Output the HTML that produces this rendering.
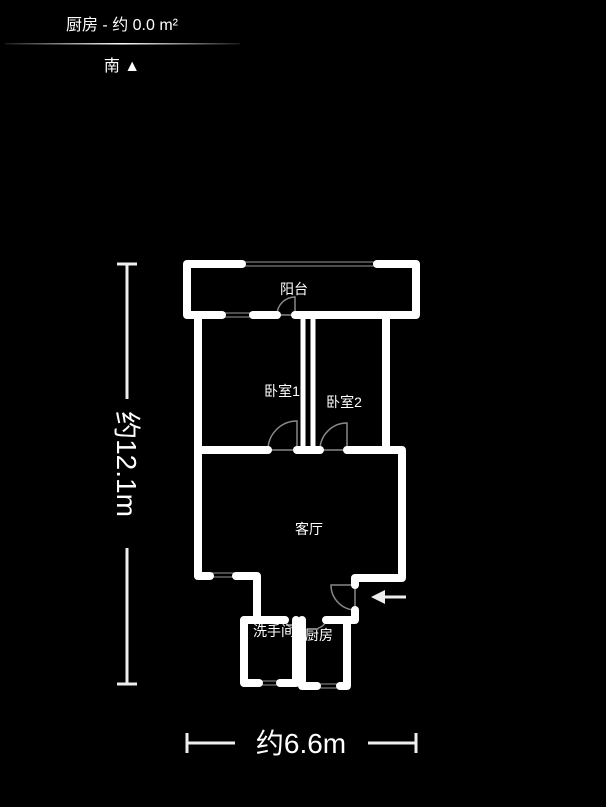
<!DOCTYPE html>
<html><head><meta charset="utf-8"><style>
html,body{margin:0;padding:0;background:#000;width:606px;height:807px;overflow:hidden}
svg{display:block}
text{font-family:"Liberation Sans","Noto Sans CJK SC",sans-serif;fill:#fff}
</style></head><body>
<svg width="606" height="807" viewBox="0 0 606 807">
<defs><linearGradient id="g" x1="0" x2="1"><stop offset="0" stop-color="#fff" stop-opacity="0.1"/><stop offset=".5" stop-color="#fff"/><stop offset="1" stop-color="#fff" stop-opacity="0.1"/></linearGradient></defs>
<text x="122" y="30" font-size="16" text-anchor="middle">厨房 - 约 0.0 m²</text>
<rect x="5" y="43" width="235" height="1.5" fill="url(#g)"/>
<text x="122" y="71" font-size="16" text-anchor="middle">南 ▲</text>

<g stroke="#999" stroke-width="1">
<line x1="242" y1="262" x2="377" y2="262"/><line x1="242" y1="266" x2="377" y2="266"/>
<line x1="222" y1="313" x2="253" y2="313"/><line x1="222" y1="317" x2="253" y2="317"/>
<line x1="210" y1="573" x2="236" y2="573"/><line x1="210" y1="577" x2="236" y2="577"/>
<line x1="259" y1="681" x2="280" y2="681"/><line x1="259" y1="685" x2="280" y2="685"/>
<line x1="317" y1="684" x2="340" y2="684"/><line x1="317" y1="688" x2="340" y2="688"/>
</g>
<g stroke="#888" stroke-width="1.5" fill="none">
<path d="M277 315 A18 18 0 0 1 295 297 L295 315 Z"/>
<path d="M268 450 A29 29 0 0 1 297 421 L297 450"/>
<line x1="268" y1="450" x2="297" y2="450"/>
<path d="M320 450 A27 27 0 0 1 347 423 L347 450"/>
<line x1="320" y1="450" x2="347" y2="450"/>
<path d="M331 585 A25 25 0 0 0 355 610 L355 585 Z"/>
<path d="M285 620 A10 10 0 0 0 293 628"/>
<path d="M326 620 A10 10 0 0 1 318 628"/>
</g>
<g stroke="#fff" stroke-width="8" stroke-linecap="round" stroke-linejoin="round" fill="none">
<polyline points="242,264 187,264 187,315 222,315"/>
<polyline points="377,264 416,264 416,315 295,315"/>
<line x1="253" y1="315" x2="277" y2="315"/>
<line x1="198" y1="315" x2="198" y2="576"/>
<line x1="386" y1="315" x2="386" y2="450"/>
<polyline points="198,450 268,450"/>
<polyline points="347,450 402,450 402,578 355,578 355,585"/>
<line x1="297" y1="450" x2="320" y2="450"/>
<line x1="198" y1="576" x2="210" y2="576"/>
<polyline points="236,576 257,576 257,620"/>
<polyline points="355,610 355,620 326,620"/>
<polyline points="285,620 244,620 244,683 259,683"/>
<polyline points="280,683 296,683 296,620"/>
<polyline points="302,620 302,686 317,686"/>
<polyline points="340,686 347,686 347,620"/>
</g>
<g stroke="#fff" stroke-width="5">
<line x1="303" y1="315" x2="303" y2="450"/><line x1="313" y1="315" x2="313" y2="450"/>
</g>
<line x1="382" y1="597" x2="406" y2="597" stroke="#eee" stroke-width="3"/>
<polygon points="371,597 385,590 385,604" fill="#eee"/>
<g font-size="14" text-anchor="middle">
<text x="294" y="294">阳台</text>
<text x="282" y="396">卧室1</text>
<text x="344" y="407">卧室2</text>
<text x="309" y="534">客厅</text>
<text x="274" y="636">洗手间</text>
<text x="319" y="640">厨房</text>
</g>
<g stroke="#eee" stroke-width="3">
<line x1="127" y1="264" x2="127" y2="399"/><line x1="127" y1="548" x2="127" y2="684"/>
<line x1="117" y1="264" x2="137" y2="264"/><line x1="117" y1="684" x2="137" y2="684"/>
<line x1="187" y1="743" x2="235" y2="743"/><line x1="368" y1="743" x2="416" y2="743"/>
<line x1="187" y1="733" x2="187" y2="753"/><line x1="416" y1="733" x2="416" y2="753"/>
</g>
<text x="0" y="0" font-size="28" text-anchor="middle" transform="translate(117,464) rotate(90)">约12.1m</text>
<text x="301" y="753" font-size="28" text-anchor="middle">约6.6m</text>
</svg>
</body></html>
